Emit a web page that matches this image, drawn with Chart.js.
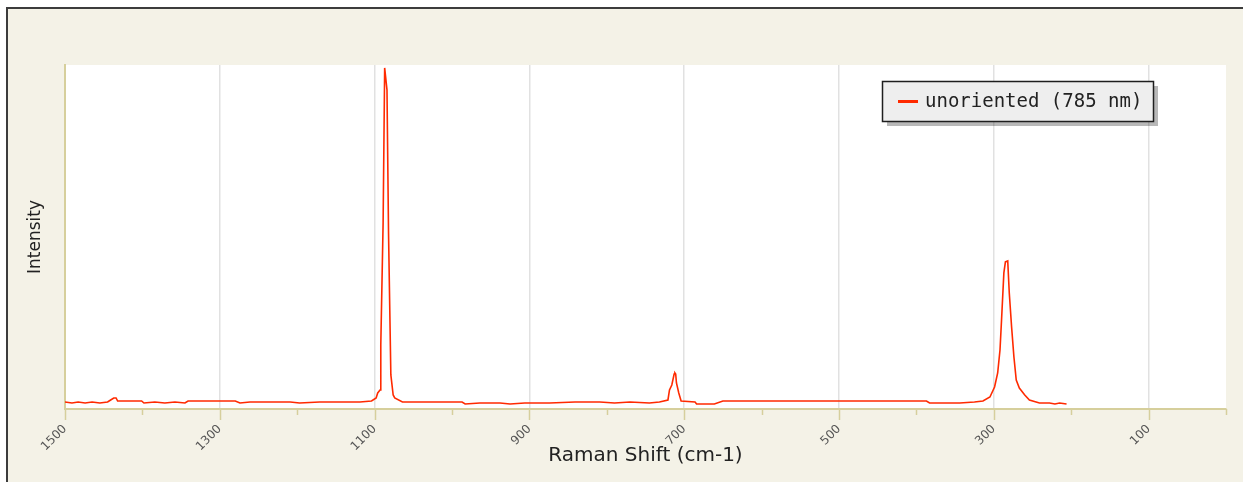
<!DOCTYPE html>
<html>
<head>
<meta charset="utf-8">
<script src="https://cdn.jsdelivr.net/npm/chart.js@4.4.1/dist/chart.umd.min.js"></script>
<style>
  html, body { margin: 0; padding: 0; background: #fff; overflow: hidden; }
  canvas { display: block; }
</style>
</head>
<body>
<canvas id="raman" width="1243" height="482"></canvas>
<script>
// spectrum (cm-1, arbitrary intensity)
const ramanShift = [
  1500, 1491, 1483, 1474, 1465, 1455, 1445, 1441, 1437, 1434, 1432, 1416, 1401, 1398,
  1384, 1371, 1358, 1345, 1341, 1300, 1280, 1274, 1261, 1235, 1209, 1197, 1171, 1145,
  1119, 1104, 1098, 1096, 1093, 1092, 1089, 1087, 1084, 1082, 1079, 1076, 1074, 1064,
  1029, 987, 983, 964, 938, 925, 906, 874, 841, 809, 790, 770, 745, 732,
  721, 719, 716, 713, 712, 711, 710, 707, 704, 686, 684, 661, 650, 602,
  551, 486, 422, 387, 383, 370, 344, 325, 314, 305, 299, 295, 292, 290,
  287, 285, 282, 280, 277, 274, 271, 267, 260, 254, 241, 228, 221, 215, 206
];
const intensity = [
  98, 84, 98, 84, 98, 84, 98, 126, 154, 154, 112, 112, 112, 84,
  98, 84, 98, 84, 112, 112, 112, 84, 98, 98, 98, 84, 98, 98,
  98, 112, 154, 224, 266, 895, 2602, 4770, 4463, 2462, 476, 196, 154, 98,
  98, 98, 70, 84, 84, 70, 84, 84, 98, 98, 84, 98, 84, 98,
  126, 266, 336, 490, 504, 490, 364, 224, 112, 98, 70, 70, 112, 112,
  112, 112, 112, 112, 84, 84, 84, 98, 112, 168, 308, 504, 825, 1245,
  1903, 2057, 2071, 1623, 1147, 727, 406, 294, 196, 126, 84, 84, 70, 84, 70
];
const seriesName = "unoriented (785 nm)";
const xLabelTicks = [1500, 1300, 1100, 900, 700, 500, 300, 100];

const khaki = "#d6cf9c";
const gridGray = "#e1e1e1";

const framePlugin = {
  id: "frame",
  beforeDraw(chart) {
    const { ctx, width, height, chartArea: a } = chart;
    ctx.save();
    ctx.fillStyle = "#ffffff";
    ctx.fillRect(0, 0, width, height);
    ctx.fillStyle = "#f4f2e7";
    ctx.fillRect(7, 8, width - 7, height - 8);
    ctx.strokeStyle = "#3c3c3c";
    ctx.lineWidth = 2;
    ctx.beginPath();
    ctx.moveTo(7, height);
    ctx.lineTo(7, 8);
    ctx.lineTo(width, 8);
    ctx.stroke();
    ctx.fillStyle = "#ffffff";
    ctx.fillRect(a.left, a.top, a.right - a.left, a.bottom - a.top);
    ctx.restore();
  },
  afterDraw(chart) {
    const { ctx, chartArea: a, scales } = chart;
    ctx.save();
    ctx.strokeStyle = khaki;
    ctx.lineWidth = 1.5;
    // y tick marks, inside the plot
    scales.y.ticks.forEach(t => {
      if (t.value <= 0 || t.value % 500 !== 0) return;
      const y = Math.round(scales.y.getPixelForValue(t.value)) + 0.5;
      const len = t.value % 1000 === 0 ? 11 : 7;
      ctx.beginPath();
      ctx.moveTo(a.left, y);
      ctx.lineTo(a.left + len, y);
      ctx.stroke();
    });
    // x tick marks, below the axis
    scales.x.ticks.forEach(t => {
      const x = Math.round(scales.x.getPixelForValue(t.value)) + 0.5;
      const len = xLabelTicks.includes(t.value) ? 11 : 6;
      ctx.beginPath();
      ctx.moveTo(x, a.bottom);
      ctx.lineTo(x, a.bottom + len);
      ctx.stroke();
    });

    // legend box with drop shadow
    const bx = a.right - 344, by = a.top + 16, bw = 271, bh = 40;
    ctx.fillStyle = "rgba(0,0,0,0.28)";
    ctx.fillRect(bx + 5, by + 5, bw, bh);
    ctx.fillStyle = "#eeeeee";
    ctx.fillRect(bx, by, bw, bh);
    ctx.strokeStyle = "#1e1e1e";
    ctx.lineWidth = 1.5;
    ctx.strokeRect(bx + 0.5, by + 0.5, bw, bh);
    const ds = chart.data.datasets[0];
    ctx.strokeStyle = ds.borderColor;
    ctx.lineWidth = 3;
    ctx.beginPath();
    ctx.moveTo(bx + 16, by + 20.5);
    ctx.lineTo(bx + 36, by + 20.5);
    ctx.stroke();
    ctx.fillStyle = "#222";
    ctx.font = "19px 'DejaVu Sans Mono'";
    ctx.textBaseline = "middle";
    ctx.fillText(ds.label, bx + 43, by + 21);
    ctx.restore();
  }
};

new Chart(document.getElementById("raman"), {
  type: "line",
  data: {
    datasets: [{
      label: seriesName,
      data: ramanShift.map((x, i) => ({ x: x, y: intensity[i] })),
      borderColor: "#ff2a00",
      borderWidth: 1.6,
      pointRadius: 0,
      tension: 0,
      fill: false
    }]
  },
  options: {
    responsive: false,
    animation: false,
    devicePixelRatio: 1,
    layout: { padding: { top: 65, right: 17, left: 25, bottom: 0 } },
    plugins: {
      legend: { display: false },
      tooltip: { enabled: false }
    },
    scales: {
      x: {
        type: "linear",
        reverse: true,
        min: 0,
        max: 1500,
        afterFit: s => { s.height = 73; s.paddingRight = 0; },
        border: { display: true, color: khaki, width: 2 },
        grid: {
          drawTicks: false,
          lineWidth: 1.5,
          color: c => xLabelTicks.includes(c.tick.value) ? gridGray : "rgba(0,0,0,0)"
        },
        ticks: {
          stepSize: 100,
          autoSkip: false,
          minRotation: 45,
          maxRotation: 45,
          padding: 13,
          color: "#555",
          font: { family: "DejaVu Sans", size: 12 },
          callback: v => xLabelTicks.includes(v) ? String(v) : ""
        },
        title: {
          display: true,
          text: "Raman Shift (cm-1)",
          color: "#222",
          font: { family: "DejaVu Sans", size: 20 },
          padding: { top: 0, bottom: 14 }
        }
      },
      y: {
        min: 0,
        max: 4811,
        afterFit: s => { s.width = 40; },
        border: { display: true, color: khaki, width: 2 },
        grid: {
          drawTicks: false,
          lineWidth: 1.5,
          color: c => (c.tick.value > 0 && c.tick.value % 1000 === 0) ? gridGray : "rgba(0,0,0,0)"
        },
        ticks: { display: false, stepSize: 500 },
        title: {
          display: true,
          text: "Intensity",
          color: "#222",
          font: { family: "DejaVu Sans", size: 17 },
          padding: 0
        }
      }
    }
  },
  plugins: [framePlugin]
});
</script>
</body>
</html>
